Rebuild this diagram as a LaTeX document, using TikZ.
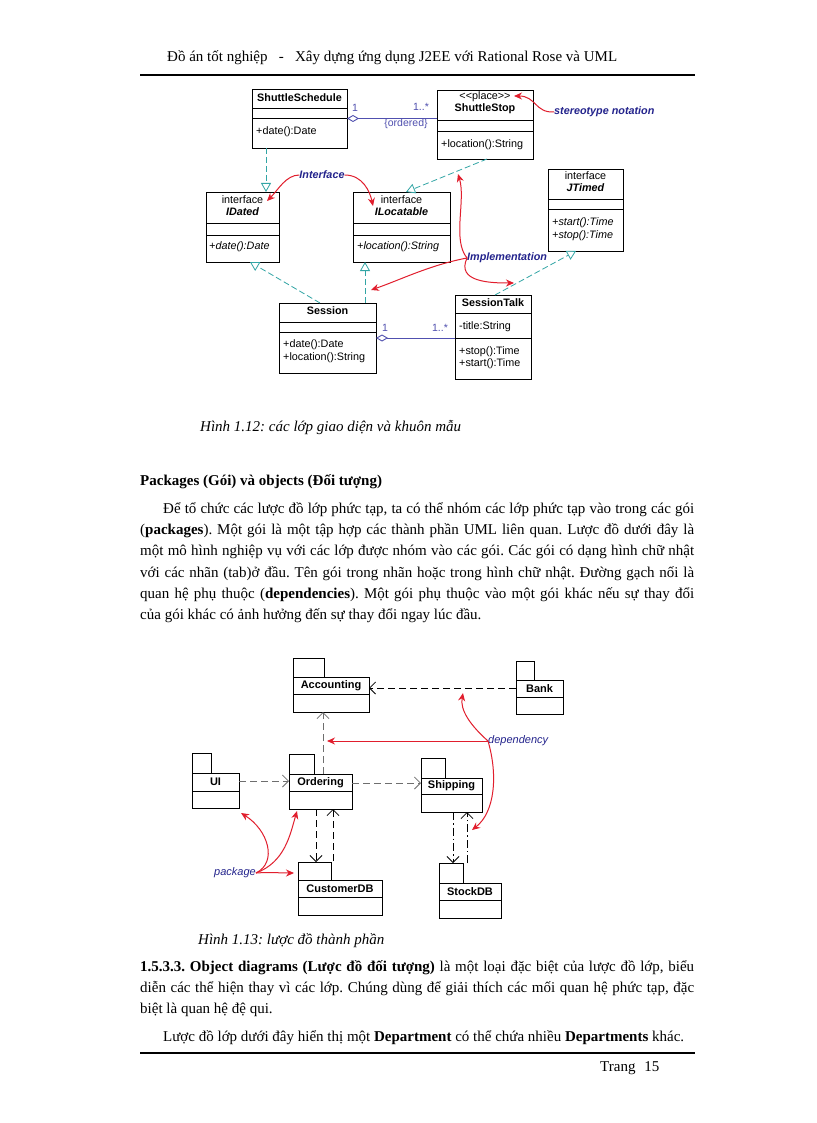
\documentclass[tikz,border=0pt]{standalone}
\usepackage{fontspec}
\setmainfont{Liberation Serif}
\newfontfamily\umlf{Liberation Sans}
\usetikzlibrary{arrows.meta,calc}
\definecolor{umlteal}{RGB}{50,165,165}
\definecolor{assocblue}{RGB}{80,80,175}
\definecolor{annred}{RGB}{225,30,45}
\definecolor{labblue}{RGB}{35,35,140}
\definecolor{depgray}{RGB}{110,110,110}
\newcommand{\bodyf}{\fontsize{15}{18}\selectfont}
\newcommand{\cbox}[5]{\node[clsbox, minimum width={(#4-#2)*1pt}, minimum height={(#5-#3)*1pt}] (#1) at (#2,#3) {};}
\newcommand{\pkg}[8]{% name, x1, ytab, xtab, ybody, x2, ydiv, ybot
  \node[clsbox, minimum width={(#4-#2)*1pt}, minimum height={(#5-#3)*1pt}] (#1t) at (#2,#3) {};
  \node[clsbox, minimum width={(#6-#2)*1pt}, minimum height={(#8-#5)*1pt}] (#1) at (#2,#5) {};
  \draw[line width=0.8pt] (#2,#7) -- (#6,#7);}
\tikzset{
  clsbox/.style={draw, line width=0.9pt, inner sep=0pt, outer sep=0pt, anchor=north west, fill=white},
  ctext/.style={font=\umlf\fontsize{10.8}{12}\selectfont, inner sep=0pt},
  cname/.style={font=\umlf\bfseries\fontsize{10.8}{12}\selectfont, inner sep=0pt},
  cital/.style={font=\umlf\itshape\fontsize{10.8}{12}\selectfont, inner sep=0pt},
  cbital/.style={font=\umlf\bfseries\itshape\fontsize{10.8}{12}\selectfont, inner sep=0pt},
  pname/.style={font=\umlf\bfseries\fontsize{11}{12}\selectfont, inner sep=0pt},
  real/.style={draw=umlteal, line width=0.8pt, dash pattern=on 6pt off 3pt,
    -{Triangle[open, length=9pt, width=10pt, fill=white]}},
  assoc/.style={draw=assocblue, line width=0.9pt, {Diamond[open, length=12pt, width=7pt, fill=white]}-},
  alab/.style={font=\umlf\fontsize{10.5}{12}\selectfont, text=assocblue, inner sep=0pt},
  redarr/.style={draw=annred, line width=1pt, -{Stealth[length=8pt, width=7pt]}},
  annlab/.style={font=\umlf\bfseries\itshape\fontsize{10.8}{12}\selectfont, text=labblue, inner sep=0pt},
  annlab2/.style={font=\umlf\itshape\fontsize{11}{12}\selectfont, text=labblue, inner sep=0pt},
  dep/.style={line width=0.8pt, dash pattern=on 7pt off 4pt, -{Straight Barb[length=6pt, width=12pt]}},
  depdot/.style={line width=0.8pt, dash pattern=on 8pt off 3pt on 1.5pt off 3pt, -{Straight Barb[length=6pt, width=12pt]}},
  bline/.style={anchor=base west, inner sep=0pt, font=\bodyf},
}
\begin{document}
\frenchspacing
\begin{tikzpicture}[x=1pt,y=-1pt]
\useasboundingbox (0,0) rectangle (816,1123);
\fill[white] (0,0) rectangle (816,1123);

% ---------- header / footer ----------
\node[bline] (head) at (167,62) {Đồ án tốt nghiệp \ \ - \ \ Xây dựng ứng dụng J2EE với Rational Rose và UML};
\draw[line width=2pt] (140,75) -- (695,75);
\draw[line width=2pt] (140,1053) -- (695,1053);
\node[bline] (foot) at (600,1071) {Trang\hspace{9pt}15};

% ---------- Figure 1.12 ----------
\cbox{ss}{252}{89}{347}{148}
\draw[line width=0.8pt] (252,108) -- (347,108) (252,118) -- (347,118);
\node[cname] at (299.5,98) {ShuttleSchedule};
\node[ctext, anchor=west] at (256,132) {+date():Date};

\cbox{sp}{437}{90}{533}{159}
\draw[line width=0.8pt] (437,120) -- (533,120) (437,131) -- (533,131);
\node[ctext] at (485,97) {<{}<place>{}>};
\node[cname] at (485,109) {ShuttleStop};
\node[ctext, anchor=west] at (441,145) {+location():String};

\cbox{id}{206}{192}{279}{262}
\draw[line width=0.8pt] (206,223) -- (279,223) (206,235) -- (279,235);
\node[ctext] at (242.5,200) {interface};
\node[cbital] at (242.5,212) {IDated};
\node[cital, anchor=west] at (209,247) {+date():Date};

\cbox{il}{353}{192}{450}{262}
\draw[line width=0.8pt] (353,223) -- (450,223) (353,235) -- (450,235);
\node[ctext] at (401.5,200) {interface};
\node[cbital] at (401.5,212) {ILocatable};
\node[cital, anchor=west] at (357,247) {+location():String};

\cbox{jt}{548}{169}{623}{251}
\draw[line width=0.8pt] (548,199) -- (623,199) (548,209) -- (623,209);
\node[ctext] at (585.5,176) {interface};
\node[cbital] at (585.5,188) {JTimed};
\node[cital, anchor=west] at (552,223) {+start():Time};
\node[cital, anchor=west] at (552,236) {+stop():Time};

\cbox{se}{279}{303}{376}{373}
\draw[line width=0.8pt] (279,322) -- (376,322) (279,332) -- (376,332);
\node[cname] at (327.5,311) {Session};
\node[ctext, anchor=west] at (283,345) {+date():Date};
\node[ctext, anchor=west] at (283,358) {+location():String};

\cbox{st}{455}{295}{531}{379}
\draw[line width=0.8pt] (455,313) -- (531,313) (455,338) -- (531,338);
\node[cname] at (493,303) {SessionTalk};
\node[ctext, anchor=west] at (459,327) {-title:String};
\node[ctext, anchor=west] at (459,352) {+stop():Time};
\node[ctext, anchor=west] at (459,364) {+start():Time};

% associations
\draw[assoc] (ss.east) -- (ss.east -| sp.west);
\node[alab] at (355,108) {1};
\node[alab] at (421,107) {1..*};
\node[alab] at (406,124) {\{ordered\}};
\draw[assoc] (se.east) -- (se.east -| st.west);
\node[alab] at (385,328) {1};
\node[alab] at (440,328) {1..*};

% realizations
\draw[real] ([xshift=-33.5pt]ss.south) -- ([xshift=23.5pt]id.north);
\draw[real] ([xshift=2pt]sp.south) -- ([xshift=4.5pt]il.north);
\draw[real] ([xshift=-7.5pt]se.north) -- ([xshift=7.5pt]id.south);
\draw[real] ([xshift=37.5pt]se.north) -- ([xshift=-36.5pt]il.south);
\draw[real] ([xshift=2pt]st.north) -- ([xshift=-9.5pt]jt.south);

% annotations
\node[annlab, anchor=west] (stn) at (554,112) {stereotype notation};
\draw[redarr] (stn.west) .. controls (535,113) and (536,96) .. (514,96);
\node[annlab] (ifl) at (322,175) {Interface};
\draw[redarr] (ifl.west) .. controls (286,175) and (278,190) .. (267,201);
\draw[redarr] (ifl.east) .. controls (363,175) and (370,192) .. (373,206);
\node[annlab, anchor=west] (impl) at (467,258) {Implementation};
\draw[redarr] (impl.west) .. controls (452,240) and (466,200) .. (458,174);
\draw[redarr] (impl.west) .. controls (430,265) and (400,280) .. (371,290);
\draw[redarr] (impl.west) .. controls (456,282) and (490,283) .. (514,283);

% caption
\node[bline, font=\bodyf\itshape] (cap1) at (200,431) {Hình 1.12: các lớp giao diện và khuôn mẫu};

% ---------- text ----------
\node[bline, font=\bodyf\bfseries] (h2) at (140,485) {Packages (Gói) và objects (Đối tượng)};
\node[bline] (p1) at (163,513) {\makebox[531pt][s]{Để tổ chức các lược đồ lớp phức tạp, ta có thể nhóm các lớp phức tạp vào trong các gói}};
\node[bline] (p2) at (140,534) {\makebox[554pt][s]{(\textbf{packages}). Một gói là một tập hợp các thành phần UML liên quan. Lược đồ dưới đây là}};
\node[bline] (p3) at (140,555.5) {\makebox[554pt][s]{một mô hình nghiệp vụ với các lớp được nhóm vào các gói. Các gói có dạng hình chữ nhật}};
\node[bline] (p4) at (140,577) {\makebox[554pt][s]{với các nhãn (tab)ở đầu. Tên gói trong nhãn hoặc trong hình chữ nhật. Đường gạch nối là}};
\node[bline] (p5) at (140,598) {\makebox[554pt][s]{quan hệ phụ thuộc (\textbf{dependencies}). Một gói phụ thuộc vào một gói khác nếu sự thay đổi}};
\node[bline] (p6) at (140,619) {của gói khác có ảnh hưởng đến sự thay đổi ngay lúc đầu.};

% ---------- Figure 1.13 ----------
\pkg{ac}{293}{658}{324}{677}{369}{694}{712}
\node[pname] at (331,686) {Accounting};
\pkg{bk}{516}{661}{534}{680}{563}{697}{714}
\node[pname] at (539.5,689) {Bank};
\pkg{ui}{192}{753}{211}{773}{239}{791}{808}
\node[pname] at (215.5,782) {UI};
\pkg{or}{289}{754}{314}{774}{352}{791}{809}
\node[pname] at (320.5,783) {Ordering};
\pkg{sh}{421}{758}{445}{778}{482}{794}{812}
\node[pname] at (451.5,786) {Shipping};
\pkg{cu}{298}{862}{331}{880}{382}{897}{915}
\node[pname] at (340,889) {CustomerDB};
\pkg{sd}{439}{863}{463}{883}{501}{900}{918}
\node[pname] at (470,892) {StockDB};

\draw[dep] ([yshift=9pt]bk.west) -- ([yshift=9pt]bk.west -| ac.east);
\draw[dep, depgray] ([yshift=9.5pt]ui.east) -- ([yshift=9.5pt]ui.east -| or.west);
\draw[dep, depgray] ([yshift=8.5pt]or.east) -- ([yshift=8.5pt]or.east -| sh.west);
\draw[dep, depgray] ([xshift=2.5pt]or.north) -- ([xshift=2.5pt]or.north |- ac.south);
\draw[dep] ([xshift=-4.5pt]or.south) -- ([xshift=-4.5pt]or.south |- cut.north);
\draw[dep] ([xshift=-7pt,yshift=19pt]cu.north) -- ([xshift=-7pt]cu.north |- or.south);
\draw[depdot] ([xshift=1.5pt]sh.south) -- ([xshift=1.5pt]sh.south |- sdt.north);
\draw[depdot] ([xshift=-3pt,yshift=20pt]sd.north) -- ([xshift=-3pt]sd.north |- sh.south);

\node[annlab2, anchor=west] (depl) at (488,741) {dependency};
\draw[redarr] (depl.west) -- (327,741);
\draw[redarr] (depl.west) .. controls (470,725) and (460,710) .. (463,693);
\draw[redarr] (depl.west) .. controls (498,775) and (495,812) .. (472,830);
\node[annlab2, anchor=east] (pkl) at (256,873) {package};
\draw[redarr] (pkl.east) .. controls (278,862) and (268,830) .. (241,813);
\draw[redarr] (pkl.east) .. controls (285,862) and (290,835) .. (297,811);
\draw[redarr] (pkl.east) .. controls (270,872) and (280,873) .. (294,873);

\node[bline, font=\bodyf\itshape] (cap2) at (198,944) {Hình 1.13: lược đồ thành phần};
\node[bline] (q1) at (140,971) {\makebox[554pt][s]{\textbf{1.5.3.3. Object diagrams (Lược đồ đối tượng)} là một loại đặc biệt của lược đồ lớp, biểu}};
\node[bline] (q2) at (140,992) {\makebox[554pt][s]{diễn các thể hiện thay vì các lớp. Chúng dùng để giải thích các mối quan hệ phức tạp, đặc}};
\node[bline] (q3) at (140,1013) {biệt là quan hệ đệ qui.};
\node[bline] (q4) at (163,1041) {Lược đồ lớp dưới đây hiển thị một \textbf{Department} có thể chứa nhiều \textbf{Departments} khác.};
\end{tikzpicture}
\end{document}
